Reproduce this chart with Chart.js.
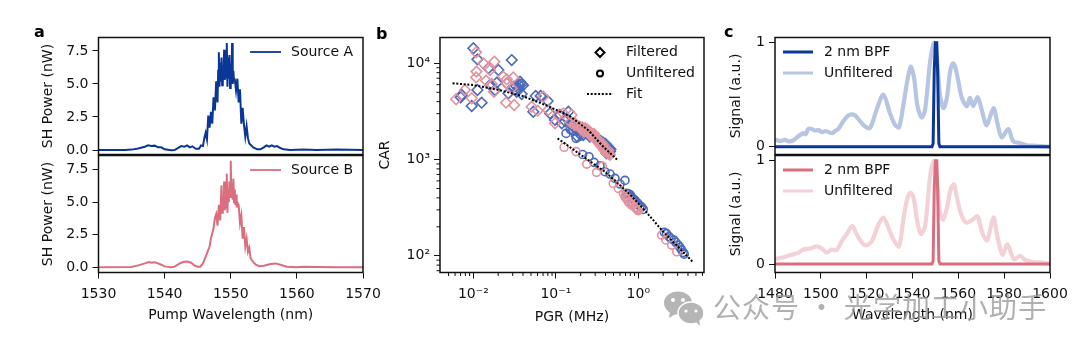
<!DOCTYPE html>
<html>
<head>
<meta charset="utf-8">
<script src="https://cdn.jsdelivr.net/npm/chart.js@4"></script>
<style>
  html, body { margin: 0; padding: 0; background: #fff; overflow: hidden; }
  #page { position: relative; width: 1080px; height: 352px; }
  canvas { position: absolute; left: 0; top: 0; }
  #mark { position: absolute; left: 713px; top: 286px; font: 28px "Noto Sans CJK SC"; letter-spacing: 1.05px; color: rgba(150,150,150,.75); white-space: pre; }
  #logo { position: absolute; left: 663px; top: 291px; }
</style>
</head>
<body>
<div id="page">
  <canvas id="a1" width="1080" height="352"></canvas>
  <canvas id="a2" width="1080" height="352"></canvas>
  <canvas id="b" width="1080" height="352"></canvas>
  <canvas id="c1" width="1080" height="352"></canvas>
  <canvas id="c2" width="1080" height="352"></canvas>
  <svg id="logo" width="44" height="36">
    <ellipse cx="15" cy="12" rx="14" ry="11.5" fill="#b5b5b5"/>
    <path d="M7 20 L6 27 L14 22 Z" fill="#b5b5b5"/>
    <ellipse cx="28" cy="22" rx="13" ry="11" fill="#b5b5b5" stroke="#fff" stroke-width="1.5"/>
    <path d="M33 31 L37 35 L36 28 Z" fill="#b5b5b5"/>
    <circle cx="10" cy="9" r="2" fill="#fff"/><circle cx="20" cy="9" r="2" fill="#fff"/>
    <circle cx="23" cy="20" r="1.6" fill="#fff"/><circle cx="33" cy="20" r="1.6" fill="#fff"/>
  </svg>
  <div id="mark">公众号 · 光学加工小助手</div>
</div>
<script>
// panel a, SH power spectra
const pumpA = [1530,1534,1535,1536,1537,1537.5,1538,1538.5,1539,1539.5,1540,1541,1541.5,1542,1542.5,1543,1543.4,1543.8,1544.2,1544.7,1545.2,1545.5,1545.8,1546,1546.2,1546.4,1546.6,1546.8,1547,1547.2,1547.4,1547.6,1547.8,1548,1548.1,1548.2,1548.3,1548.4,1548.5,1548.6,1548.7,1548.8,1548.9,1549,1549.1,1549.2,1549.3,1549.4,1549.5,1549.6,1549.7,1549.8,1549.9,1550,1550.1,1550.2,1550.3,1550.4,1550.5,1550.6,1550.8,1551,1551.2,1551.4,1551.6,1551.8,1552,1552.2,1552.4,1552.6,1552.8,1553,1553.4,1554,1554.5,1555,1555.4,1555.8,1556.2,1556.6,1557,1557.5,1558,1559,1561,1563,1566,1570];
const powerA = [0,0,.03,.12,.25,.35,.3,.33,.2,.2,.05,-.02,0,.15,.3,.25,.35,.2,.28,.1,.1,.35,.3,.9,1.3,.8,2.6,1.7,2.9,2,4,3,5.2,3.6,6,7.4,4.8,6.6,5.2,7,4.9,6.4,5.6,7.6,5.3,6.8,5.5,8.1,4.8,7,5.4,7.2,4.7,6.5,5.1,8.1,5,6,5.2,5.4,4.5,5.4,3.6,4.6,2,3.2,1.9,1,1.8,.9,.5,.4,.2,.05,.05,.2,.35,.25,.35,.25,.3,.15,.05,0,.03,0,.03,0];
const pumpB = [1530,1535,1536,1537,1537.6,1538,1538.5,1539,1539.5,1540,1541,1541.5,1542,1542.5,1543,1543.5,1544,1544.5,1545,1545.4,1545.8,1546.2,1546.5,1546.8,1547,1547.2,1547.4,1547.6,1547.8,1548,1548.2,1548.4,1548.6,1548.7,1548.8,1548.9,1549,1549.1,1549.2,1549.3,1549.4,1549.5,1549.6,1549.7,1549.8,1549.9,1550,1550.1,1550.2,1550.3,1550.4,1550.5,1550.6,1550.7,1550.8,1550.9,1551,1551.2,1551.4,1551.6,1551.8,1552,1552.2,1552.4,1552.6,1552.8,1553,1553.4,1553.8,1554.3,1555,1556,1556.8,1557.5,1558.5,1560,1561,1563,1566,1570];
const powerB = [0,.02,.15,.3,.4,.35,.38,.3,.2,.07,0,.05,.2,.35,.42,.45,.35,.15,.05,.05,.3,.8,1.2,1.6,2.2,2.6,3,3.8,4.1,3.2,4.8,3.6,6.3,4.2,5,4.4,6.6,4.4,5.6,4.6,7.2,4.2,6,5,6.6,5.4,8.2,5.4,6.4,5.2,6.8,5,6,4.8,5.6,4.6,5,4.8,3.4,4,2.2,3.1,1.6,2.2,1.2,1.5,.7,.4,.2,.08,.12,.25,.3,.2,.05,0,.04,.02,.01,0];
const pumpTicks = [1530,1540,1550,1560,1570];
const powerTicks = [0,2.5,5,7.5];

// panel b, CAR against PGR
const filtBlueX = [.01,.0112,.0152,.0201,.0292,.0112,.0126,.00955,.00722,.00702,.0192,.0159,.0183,.0266,.0254,.0305,.0368,.0385,.0351,.0335,.0385,.057,.0655,.0796,.0533,.085,.0977,.118,.142,.135,.112,.163,.149,.179,.215,.259,.312,.376,.394,.433,.454,.413,.376,.32,.35,.4,.42,.44,.46,.13,.16,.18,.2,.22,.033,.036,.04];
const filtBlueY = [14330,11000,8870,8520,10800,5280,3900,3600,4690,4430,6300,5950,5280,4880,6200,5720,6440,6090,5500,5070,4800,4570,4570,4060,3140,3020,2580,2380,3140,2680,2900,2190,2380,2030,1800,1730,1600,1500,1420,1310,1210,1160,1310,1620,1560,1450,1380,1280,1280,2500,2000,1750,1800,2050,5800,6000,5900];
const filtRedX = [.00617,.0079,.0108,.0109,.0108,.00955,.0132,.0143,.018,.0159,.0178,.0167,.0231,.0254,.0305,.0254,.0249,.0312,.0292,.0509,.0602,.0705,.0811,.0977,.107,.123,.155,.171,.196,.226,.259,.285,.327,.36,.394,.433,.454,.2,.22,.25,.27,.3,.33,.35,.38,.41,.44,.24,.29,.15,.17,.19,.21,.23,.26,.28,.31,.32,.34,.36,.37,.39,.42,.43];
const filtRedY = [4230,5280,13000,8200,7140,4330,10000,6600,10400,8520,5070,6090,7270,6820,7140,6200,3900,3690,5500,3540,3220,4500,3270,2380,2900,3020,2900,2380,2190,2120,1950,1800,1600,1420,1260,1160,1120,2100,1950,1900,1750,1650,1500,1400,1300,1200,1150,2050,1850,2450,2300,2200,2150,2000,1850,1780,1600,1550,1450,1380,1450,1240,1180,1250];
const unfBlueX = [.133,.15,.176,.211,.252,.29,.343,.394,.454,.521,.6,.689,.723,.793,.871,.955,1.05,1.15,.83,.91,1,2.07,2.36,2.7,3.05,3.35,3.61,.8,.76,.9,.98,1.1,2.2,2.5,2.85,3.2,3.5];
const unfBlueY = [1870,2050,1660,1130,1070,935,862,748,707,637,556,607,445,421,388,359,328,303,405,373,343,175,158,146,129,115,104,430,440,380,350,320,170,150,138,122,108];
const unfRedX = [.126,.176,.237,.312,.366,.497,.573,.689,.757,.83,.955,1,.66,.72,.79,.91,1.92,2.16,2.54,2.92,.7,.74,.82,.87,.93,.98];
const unfRedY = [1340,1210,897,736,855,565,501,410,364,336,310,294,445,390,350,320,164,146,129,110,430,400,370,340,315,300];
const fitHighX = [.0056,.01,.02,.04,.08,.15,.25,.37,.573];
const fitHighY = [6200,5950,5300,4560,3600,2800,2000,1380,970];
const fitLowX = [.105,.2,.4,.8,1.2,2,3,4.56];
const fitLowY = [1660,1120,740,430,296,178,125,86.5];
const pgrTicks = [.01,.1,1];
const pgrLabels = ['10⁻²','10⁻¹','10⁰'];
const pgrMinor = [.005,.006,.007,.008,.009,.02,.03,.04,.05,.06,.07,.08,.09,.2,.3,.4,.5,.6,.7,.8,.9,2,3,4,5,6];
const carTicks = [100,1000,10000];
const carLabels = ['10²','10³','10⁴'];
const carMinor = [70,80,90,200,300,400,500,600,700,800,900,2000,3000,4000,5000,6000,7000,8000,9000];

// panel c, spectra with and without the filter
const bpfX = [1480,1500,1520,1540,1548.5,1549,1549.5,1550,1550.6,1551,1551.5,1552,1560,1580,1600];
const bpfBlue = [0,0,0,0,0,.03,.75,1,1,.7,.03,0,0,0,0];
const bpfRed = [0,0,0,0,0,.03,.75,1,1,.7,.03,0,0,0,0];
const unfWaveA = [1480,1482,1484.4,1486,1488,1490.2,1492.4,1493.4,1494.5,1496,1497.5,1499,1500.4,1502,1503.3,1505,1506.2,1507.6,1509.8,1512,1513.4,1514.9,1517.1,1519.3,1521.5,1524.4,1527.3,1530.2,1532.4,1534.1,1536,1537.7,1539.2,1540.7,1542.1,1544,1545.5,1547.7,1549.4,1550.6,1552,1553.5,1555,1556.4,1557.6,1558.6,1560,1561.5,1563.7,1565.1,1566.5,1568.4,1570.2,1572.4,1575.3,1577,1578.9,1581.8,1584,1586.9,1589.8,1592.7,1595.6,1600];
const unfSigA = [.07,.055,.065,.05,.06,.1,.13,.12,.17,.17,.155,.16,.14,.15,.14,.13,.15,.17,.245,.3,.31,.3,.245,.195,.18,.36,.5,.32,.21,.185,.4,.63,.77,.66,.4,.28,.355,.82,1,.85,.5,.37,.47,.72,.8,.77,.63,.47,.39,.47,.39,.475,.355,.205,.37,.23,.09,.17,.05,.035,.013,.01,.005,0];
const unfWaveB = [1480,1482.9,1486.5,1490.2,1492.4,1495.3,1498.2,1500.4,1502.5,1504.7,1506.9,1509.1,1511.3,1513.7,1515.6,1517.5,1519.6,1522.2,1525.1,1527.3,1529.5,1531.6,1534.1,1536,1537.7,1539.2,1540.6,1542,1543.6,1545.5,1547.7,1549.4,1550.5,1552,1553.4,1555.2,1556.6,1558.1,1559.5,1561.4,1563.6,1566.2,1568.4,1570.6,1572.6,1575.3,1577,1579.3,1581.4,1584.3,1586.9,1589.1,1592.7,1597,1600];
const unfSigB = [.05,.06,.085,.11,.14,.15,.17,.15,.11,.14,.135,.22,.29,.37,.29,.22,.18,.22,.38,.45,.35,.24,.17,.43,.63,.69,.63,.42,.29,.37,.85,1,.85,.5,.43,.56,.72,.77,.63,.47,.4,.43,.46,.29,.23,.45,.27,.09,.19,.045,.08,.04,.02,.013,0];
const waveTicks = [1480,1500,1520,1540,1560,1580,1600];
const signalTicks = [0,1];

const FONT = 'DejaVu Sans';
const BLUE = '#0a3697';
const RED = '#db6e7e';
const BLUE_LIGHT = '#b7c5e3';
const RED_LIGHT = '#f3d2d7';
const MARK_BLUE = '#4a6ab8';
const MARK_RED = '#e2939f';

function zip(xs, ys) {
  return xs.map((x, i) => ({ x: x, y: ys[i] }));
}

// frame, minor ticks, legend and panel letter
const panelExtras = {
  id: 'panelExtras',
  afterDraw(chart, args, opts) {
    const ctx = chart.ctx;
    const area = chart.chartArea;
    ctx.save();
    ctx.strokeStyle = '#111';
    ctx.lineWidth = 1.5;
    ctx.strokeRect(area.left, area.top, area.right - area.left, area.bottom - area.top);

    ctx.lineWidth = 1;
    (opts.minorX || []).forEach(v => {
      const px = chart.scales.x.getPixelForValue(v);
      ctx.beginPath();
      ctx.moveTo(px, area.bottom);
      ctx.lineTo(px, area.bottom + 3.5);
      ctx.stroke();
    });
    (opts.minorY || []).forEach(v => {
      const py = chart.scales.y.getPixelForValue(v);
      ctx.beginPath();
      ctx.moveTo(area.left, py);
      ctx.lineTo(area.left - 3.5, py);
      ctx.stroke();
    });

    ctx.textBaseline = 'middle';
    ctx.textAlign = 'left';
    ctx.font = '14px "' + FONT + '"';
    (opts.legend || []).forEach(item => {
      ctx.fillStyle = '#111';
      ctx.fillText(item.label, item.textX, item.y);
      ctx.strokeStyle = item.color;
      ctx.lineWidth = item.width;
      ctx.setLineDash(item.dash || []);
      if (item.marker) {
        ctx.beginPath();
        if (item.marker === 'diamond') {
          ctx.moveTo(item.x - 4.5, item.y);
          ctx.lineTo(item.x, item.y - 4.5);
          ctx.lineTo(item.x + 4.5, item.y);
          ctx.lineTo(item.x, item.y + 4.5);
          ctx.closePath();
        } else {
          ctx.arc(item.x, item.y, 3, 0, Math.PI * 2);
        }
        ctx.stroke();
      } else {
        ctx.beginPath();
        ctx.moveTo(item.x, item.y);
        ctx.lineTo(item.x2, item.y);
        ctx.stroke();
      }
      ctx.setLineDash([]);
    });

    if (opts.letter) {
      ctx.fillStyle = '#000';
      ctx.font = 'bold 16px "' + FONT + '"';
      ctx.textBaseline = 'alphabetic';
      ctx.fillText(opts.letter.text, opts.letter.x, opts.letter.y);
    }
    ctx.restore();
  }
};

// box is where the plot area has to land on the page
function makePanel(id, box, datasets, xCfg, yCfg, extras) {
  const xHeight = xCfg.title ? (xCfg.height || 51) : 0;
  const yWidth = yCfg.width;
  const tickFont = { family: FONT, size: 14 };
  const titleFont = { family: FONT, size: 14 };
  return new Chart(document.getElementById(id), {
    type: 'line',
    data: { datasets: datasets },
    plugins: [panelExtras],
    options: {
      responsive: false,
      animation: false,
      events: [],
      layout: { padding: { left: box.left - yWidth, top: box.top, right: 1080 - box.right, bottom: 352 - box.bottom - xHeight } },
      plugins: { legend: { display: false }, tooltip: { enabled: false }, panelExtras: extras },
      scales: {
        x: {
          type: xCfg.type || 'linear',
          min: xCfg.min,
          max: xCfg.max,
          display: !!xCfg.title,
          grid: { drawOnChartArea: false, tickLength: 6, tickColor: '#111' },
          border: { display: false },
          afterFit: s => { s.height = xHeight; },
          afterBuildTicks: s => { s.ticks = xCfg.ticks.map(v => ({ value: v })); },
          ticks: {
            autoSkip: false, maxRotation: 0, padding: 7, color: '#111', font: tickFont,
            callback: (v) => xCfg.labels ? xCfg.labels[xCfg.ticks.indexOf(v)] : String(v)
          },
          title: { display: !!xCfg.title, text: xCfg.title, color: '#111', font: titleFont, padding: 0 }
        },
        y: {
          type: yCfg.type || 'linear',
          min: yCfg.min,
          max: yCfg.max,
          grid: { drawOnChartArea: false, tickLength: 6, tickColor: '#111' },
          border: { display: false },
          afterFit: s => { s.width = yWidth; },
          afterBuildTicks: s => { s.ticks = yCfg.ticks.map(v => ({ value: v })); },
          ticks: {
            autoSkip: false, padding: 4, color: '#111', font: tickFont,
            callback: (v) => yCfg.labels ? yCfg.labels[yCfg.ticks.indexOf(v)] : yCfg.format(v)
          },
          title: { display: true, text: yCfg.title, color: '#111', font: titleFont, padding: 0 }
        }
      }
    }
  });
}

function lineSet(xs, ys, color, width, tension) {
  return { data: zip(xs, ys), borderColor: color, borderWidth: width, pointRadius: 0, tension: tension || 0, fill: false };
}

function markSet(xs, ys, color, style, radius) {
  return { data: zip(xs, ys), showLine: false, pointStyle: style, pointRadius: radius, pointBorderColor: color, pointBackgroundColor: 'transparent', pointBorderWidth: 1.6 };
}

function fitSet(xs, ys) {
  return { data: zip(xs, ys), borderColor: '#000', borderWidth: 2, borderDash: [2, 1.7], pointRadius: 0, tension: 0, fill: false };
}

const BOX_TOP = { top: 37.5, bottom: 154.5 };
const BOX_LOW = { top: 155.5, bottom: 272.5 };
const oneDigit = v => v.toFixed(1);
const plain = v => String(v);

makePanel('a1', { left: 98.5, right: 363, ...BOX_TOP },
  [lineSet(pumpA, powerA, BLUE, 2)],
  { min: 1530, max: 1570, ticks: pumpTicks },
  { min: -.34, max: 8.52, ticks: powerTicks, format: oneDigit, title: 'SH Power (nW)', width: 59 },
  { letter: { text: 'a', x: 34, y: 37 }, legend: [{ label: 'Source A', x: 250, x2: 281, y: 52, textX: 291, color: BLUE, width: 1.8 }] });

makePanel('a2', { left: 98.5, right: 363, ...BOX_LOW },
  [lineSet(pumpB, powerB, RED, 2)],
  { min: 1530, max: 1570, ticks: pumpTicks, title: 'Pump Wavelength (nm)' },
  { min: -.4, max: 8.6, ticks: powerTicks, format: oneDigit, title: 'SH Power (nW)', width: 59 },
  { legend: [{ label: 'Source B', x: 250, x2: 281, y: 170, textX: 291, color: RED, width: 1.8 }] });

makePanel('b', { left: 440, right: 704, top: 37.5, bottom: 272.5 },
  [
    fitSet(fitHighX, fitHighY),
    fitSet(fitLowX, fitLowY),
    markSet(filtRedX, filtRedY, MARK_RED, 'rectRot', 5.3),
    markSet(unfRedX, unfRedY, MARK_RED, 'circle', 4),
    markSet(filtBlueX, filtBlueY, MARK_BLUE, 'rectRot', 5.3),
    markSet(unfBlueX, unfBlueY, MARK_BLUE, 'circle', 4)
  ],
  { type: 'logarithmic', min: .00394, max: 6.26, ticks: pgrTicks, labels: pgrLabels, title: 'PGR (MHz)', height: 53 },
  { type: 'logarithmic', min: 67, max: 18550, ticks: carTicks, labels: carLabels, title: 'CAR', width: 63 },
  {
    letter: { text: 'b', x: 376, y: 39 }, minorX: pgrMinor, minorY: carMinor,
    legend: [
      { label: 'Filtered', marker: 'diamond', x: 600, y: 52.5, textX: 626, color: '#000', width: 2 },
      { label: 'Unfiltered', marker: 'circle', x: 600, y: 73.5, textX: 626, color: '#000', width: 2 },
      { label: 'Fit', x: 587, x2: 613, y: 94, textX: 626, color: '#000', width: 2, dash: [2, 1.7] }
    ]
  });

makePanel('c1', { left: 775, right: 1050, ...BOX_TOP },
  [lineSet(bpfX, bpfBlue, BLUE, 3), lineSet(unfWaveA, unfSigA, BLUE_LIGHT, 4.2, .3)],
  { min: 1480, max: 1600, ticks: waveTicks },
  { min: -.0755, max: 1.05, ticks: signalTicks, format: plain, title: 'Signal (a.u.)', width: 47 },
  {
    letter: { text: 'c', x: 724, y: 37 },
    legend: [
      { label: '2 nm BPF', x: 783, x2: 813, y: 52, textX: 824, color: BLUE, width: 3 },
      { label: 'Unfiltered', x: 783, x2: 813, y: 73, textX: 824, color: BLUE_LIGHT, width: 3 }
    ]
  });

makePanel('c2', { left: 775, right: 1050, ...BOX_LOW },
  [lineSet(bpfX, bpfRed, RED, 3), lineSet(unfWaveB, unfSigB, RED_LIGHT, 4.2, .3)],
  { min: 1480, max: 1600, ticks: waveTicks, title: 'Wavelength (nm)' },
  { min: -.082, max: 1.05, ticks: signalTicks, format: plain, title: 'Signal (a.u.)', width: 47 },
  {
    legend: [
      { label: '2 nm BPF', x: 783, x2: 813, y: 170, textX: 824, color: RED, width: 3 },
      { label: 'Unfiltered', x: 783, x2: 813, y: 191, textX: 824, color: RED_LIGHT, width: 3 }
    ]
  });
</script>
</body>
</html>
